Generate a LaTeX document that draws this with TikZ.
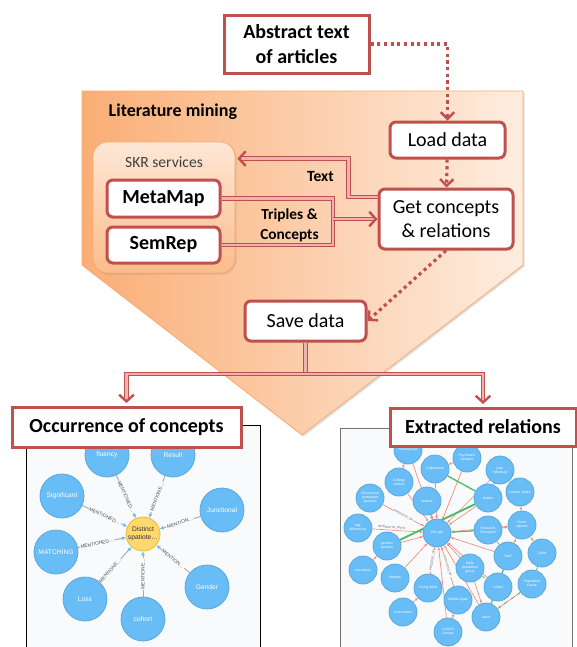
\documentclass[tikz,border=0pt]{standalone}
\usepackage{fontspec}
\setmainfont{Carlito}
\newfontfamily\graphfont{Liberation Sans}
\usetikzlibrary{arrows.meta,calc,shadows,positioning}
\definecolor{boxred}{HTML}{C0504D}
\definecolor{dblpink}{HTML}{EDB3B1}
\definecolor{orangeL}{HTML}{FAAE76}
\definecolor{orangeR}{HTML}{FEEDE0}
\definecolor{orangeE}{HTML}{F6AC72}
\definecolor{skrtop}{HTML}{FEE7D6}
\definecolor{skrbot}{HTML}{FBBC8B}
\definecolor{nodeblue}{HTML}{68BDF6}
\definecolor{nodeedge}{HTML}{5CA8DB}
\definecolor{nodeyel}{HTML}{FFD86E}
\definecolor{yeledge}{HTML}{EDBA39}
\definecolor{panelbg}{HTML}{F9FAFC}
\definecolor{linkgray}{HTML}{A5ABB6}
\definecolor{linkred}{HTML}{F36B5E}
\definecolor{linkgreen}{HTML}{4CBB6C}
\pgfdeclarelayer{bg}
\pgfdeclarelayer{links}
\pgfsetlayers{bg,links,main}
\tikzset{
  redbox/.style={draw=boxred, line width=2.25pt, fill=white, align=center, inner sep=2pt},
  roundbox/.style={redbox, rounded corners=4.5pt},
  big/.style={font=\fontsize{15}{18.5}\selectfont},
  bigbf/.style={font=\bfseries\fontsize{15}{18.5}\selectfont},
  dotarrow/.style={boxred, line width=2.4pt, dash pattern=on 2.4pt off 2.6pt,
    -{Straight Barb[length=5pt,width=10pt,line width'=1.8pt]}},
  dblline/.style={draw=boxred, line width=0.75pt, double=dblpink, double distance=1.8pt},
  dbl/.style={dblline, -{Straight Barb[length=5pt,width=11pt,line width'=1.8pt]}},
  panel/.style={fill=panelbg, line width=0.75pt},
  cnode/.style={circle, fill=nodeblue, draw=nodeedge, line width=0.6pt, minimum size=33pt,
    inner sep=0pt, text=white, align=center, font=\graphfont\fontsize{5}{6}\selectfont},
  rnode/.style={cnode, minimum size=21pt, font=\graphfont\fontsize{2.6}{3}\selectfont},
  mlink/.style={linkgray, line width=0.7pt, -{Latex[length=3pt,width=3pt,color=nodeblue]}},
  mtxt/.style={sloped, fill=panelbg, inner sep=0.6pt, text=black!70,
    font=\graphfont\fontsize{3.6}{4}\selectfont},
  rlink/.style={linkred!80, line width=0.5pt, -{Latex[length=2pt,width=2pt]}},
  rtxt/.style={sloped, fill=panelbg, inner sep=0.3pt, text=black!60,
    font=\graphfont\fontsize{2.3}{3}\selectfont},
  glink/.style={linkgreen, line width=1.4pt},
  gdash/.style={linkgreen, line width=0.5pt, dashed}
}
\begin{document}
\begin{tikzpicture}[x=0.75pt,y=-0.75pt]
\useasboundingbox (0,0) rectangle (576,647);

\begin{pgfonlayer}{bg}
  \draw[orangeE, line width=0.6pt, left color=orangeL, right color=orangeR,
    drop shadow={opacity=0.25,shadow xshift=1.2pt,shadow yshift=-1.2pt}]
    (82,91) -- (523,91) -- (523,265) -- (302,435) -- (82,265) -- cycle;
  \draw[panel, draw=black] (26,650) |- (260,425) -- (260,650);
  \draw[panel, draw=black!55] (340,650) |- (572,428) -- (572,650);
\end{pgfonlayer}

\node[font=\bfseries\fontsize{13.5}{16}\selectfont, anchor=west] (litmin) at (104,112) {Literature mining};
\node[draw=orangeE, line width=0.6pt, top color=skrtop, bottom color=skrbot, rounded corners=11pt,
  minimum width=106.5pt, minimum height=98.25pt,
  drop shadow={opacity=0.25,shadow xshift=1pt,shadow yshift=-1.2pt}] (skr) at (164,207.5) {};
\node[font=\fontsize{11.7}{14}\selectfont, text=black!75] (skrlbl) at (164,162) {SKR services};
\node[roundbox, bigbf, minimum width=84.75pt, minimum height=27.75pt] (meta) at (163.5,198.5) {MetaMap};
\node[roundbox, bigbf, minimum width=84.75pt, minimum height=27pt] (sem) at (163.5,245) {SemRep};

\node[redbox, bigbf, minimum width=108.75pt, minimum height=43.5pt] (abs) at (296.5,44) {Abstract text\\of articles};
\node[roundbox, big, minimum width=86.25pt, minimum height=27pt] (load) at (447.5,140) {Load data};
\node[roundbox, font=\fontsize{15}{18}\selectfont, minimum width=100.5pt, minimum height=45pt] (get) at (446,219) {Get concepts\\\& relations};
\node[roundbox, big, minimum width=90.75pt, minimum height=30pt] (save) at (305.5,321) {Save data};

\node[font=\bfseries\fontsize{11.7}{14}\selectfont] (txtlbl) at (320.5,176) {Text};
\node[font=\bfseries\fontsize{11.5}{15}\selectfont, align=center] (trilbl) at (289.5,225) {Triples \&\\Concepts};

\draw[dotarrow] (abs.east) -| (load.north);
\draw[dotarrow] (load) -- (get);
\draw[dotarrow] (get.south) -- (save.east);
\draw[dbl] ([yshift=16.5pt]get.west) -- ++(-29,0) |- ($(skr.north east)+(2,17)$);
\coordinate (mrg) at (333,219);
\draw[dblline] (meta.east) -| (mrg) |- (sem.east);
\draw[dbl] (mrg) -- (get.west);
\coordinate (split) at (305.5,374);
\draw[dblline] (save.south) -- (split);
\draw[dbl] (split) -| (126.5,403);
\draw[dbl] (split) -| (483,404);

% occurrence graph
\node[cnode, fill=nodeyel, draw=yeledge, minimum size=25.5pt, text=black!80] (dist) at (143,534) {Distinct\\spatiote\ldots};
\foreach \nm/\x/\y/\p/\lbl in {fluency/107/455/0.5/MENTIONED\ldots, Result/173/455/0.5/MENTIONE\ldots,
    Significant/62/496/0.5/MENTIONED\ldots, Junctional/222/510/0.5/MENTION\ldots,
    MATCHING/56/552/0.4/MENTIONED\ldots, Gender/207/587/0.5/MENTION\ldots,
    Loss/85/599/0.32/MENTIONE\ldots, cohort/143/619/0.5/MENTIONE\ldots}{
  \node[cnode] (\nm) at (\x,\y) {\nm};
  \begin{pgfonlayer}{links}
    \draw[mlink] (\nm) -- node[mtxt, pos=\p] {\lbl} (dist);
  \end{pgfonlayer}
}

% relations graph
\foreach \nm/\x/\y/\t in {nurse/408/450/{Nurse group}, psych/467/458/{Psychiatric\\inpatient},
    outp/435/469/Outpatients, pain/500/470/{pain\\individual}, college/399/482/{College\\student},
    aides/520/492/{Nurses' Aides}, clin/370/498/{Clinical trial\\participant\\(person)},
    stud/427/501/student, author/488/498/Author, homo/522/525/{Homo\\sapiens},
    agediff/358/528/{age\\differences}, old/437/533/{Old age}, research/488/530/{Research\\Personnel},
    geri/387/546/{geriatric\\patients}, staff/508/556/Staff, child/542/553/Child,
    exec/363/570/executives, anti/395/578/Antilaps, male/470/568/{Male\\population\\group},
    young/428/588/{Young Adult}, rcohort/498/587/cohort, popg/532/584/{Population\\Group},
    middle/458/600/{Middle Aged}, work/403/612/{work teams}, adult/486/617/Adult,
    control/448/632/{Control\\Groups}}
  \node[rnode] (\nm) at (\x,\y) {\t};

\begin{pgfonlayer}{links}
  \foreach \a in {nurse,psych,outp,stud,author,homo,research,staff,anti,male,rcohort,adult,control,college,geri}
    \draw[rlink] (\a) -- (old);
  \draw[rlink] (agediff) -- node[rtxt, pos=0.38, above=0.2pt] {INTERACTS\_WITH} (old);
  \foreach \a/\t in {clin/PROCESS\_OF, young/PROCESS\_OF, middle/PROCESS\_OF}
    \draw[rlink] (\a) -- node[rtxt] {\t} (old);
  \foreach \a/\b in {pain/author, aides/homo, homo/staff, male/adult, popg/adult, research/homo,
      work/young, control/middle, nurse/college, psych/outp, pain/old, homo/child, exec/geri}
    \draw[rlink] (\a) -- (\b);
  \draw[glink] (author) -- (geri);
  \draw[glink, line width=1pt] (outp) -- (author);
  \draw[glink, line width=0.8pt] (research) -- (old);
  \foreach \a/\b in {staff/rcohort, rcohort/adult, adult/popg, child/popg, staff/adult, male/rcohort, research/staff}
    \draw[gdash] (\a) -- (\b);
\end{pgfonlayer}

\node[redbox, bigbf, minimum width=171.75pt, minimum height=30pt] (occ) at (126.5,427) {Occurrence of concepts};
\node[redbox, bigbf, minimum width=139.5pt, minimum height=28.5pt] (ext) at (483,427) {Extracted relations};
\end{tikzpicture}
\end{document}
